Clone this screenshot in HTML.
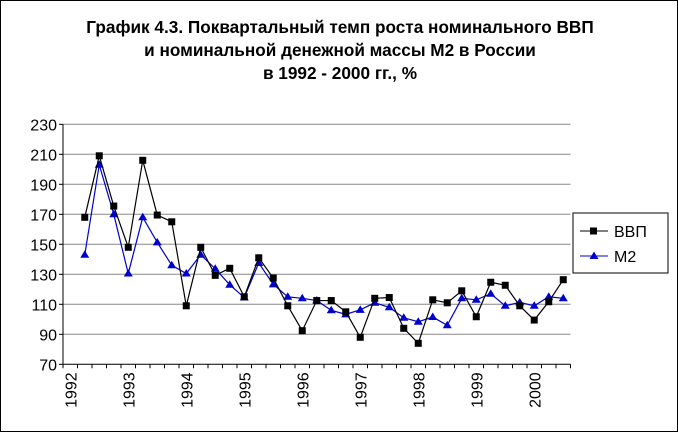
<!DOCTYPE html>
<html><head><meta charset="utf-8"><style>
body{margin:0;background:#fff;}
svg{display:block;font-family:"Liberation Sans",Arial,sans-serif;}
</style></head><body>
<svg id="chart" width="678" height="432">
<rect x="0.5" y="0.5" width="677" height="431" fill="#fff" stroke="#000"/>
<g font-weight="bold" font-size="17.2" text-anchor="middle">
<text x="340" y="33">График 4.3. Поквартальный темп роста номинального ВВП</text>
<text x="340" y="56">и номинальной денежной массы М2 в России</text>
<text x="340" y="79">в 1992 - 2000 гг., %</text>
</g>
<g id="grid"></g><g id="axes"></g><g id="series"></g>
<g>
<rect x="573" y="213" width="95" height="60" fill="#fff" stroke="#000"/>
<line x1="580" y1="231" x2="608" y2="231" stroke="#000"/><rect x="590" y="227.5" width="7" height="7" fill="#000"/>
<text x="614" y="237" font-size="16">ВВП</text>
<line x1="580" y1="256" x2="608" y2="256" stroke="#00c"/><polygon points="594,251.5 598.5,259 589.5,259" fill="#00c"/>
<text x="614" y="262" font-size="16">М2</text>
</g>
</svg>
<script>
const years=["1992","1993","1994","1995","1996","1997","1998","1999","2000"];
const yTicks=[70,90,110,130,150,170,190,210,230];
const gdp=[null,168,209,175.5,148,206,169.5,165,109,148,129.3,134,115,141,127.5,109,92.4,112.5,112.5,105,88,114,114.5,94,84,113,111,119,101.7,124.7,122.7,109,99.5,111.7,126.4];
const m2=[null,143,203,170,130.5,168,151.3,136,130.5,143,133.7,123,114.5,137.5,123.3,115,114,112.5,106,103.3,106.3,111,108,101,98.4,101.5,96,114,113,117,109,111.3,109,115,114];
const NS="http://www.w3.org/2000/svg";
const x0=63,slot=14.5,nSlots=35,x1=x0+slot*nSlots;
const yMin=70,yMax=230,yTop=124.3,yBot=364.3;
const X=i=>x0+slot*(i+0.5);
const Y=v=>yBot-(v-yMin)/(yMax-yMin)*(yBot-yTop);
function mk(tag,attrs,parent){const e=document.createElementNS(NS,tag);for(const k in attrs)e.setAttribute(k,attrs[k]);parent.appendChild(e);return e;}
const grid=document.getElementById('grid'),axes=document.getElementById('axes'),ser=document.getElementById('series');
yTicks.forEach(v=>{
 const l=mk('line',{x1:x0,x2:x1,y1:Y(v),y2:Y(v),stroke:v===yMin?'#000':'#888'},grid);
 
 
 mk('line',{x1:x0-4,x2:x0,y1:Y(v),y2:Y(v),stroke:'#000'},axes);
 const t=mk('text',{x:x0-6,y:Y(v)+6,'text-anchor':'end','font-size':'16'},axes);
 t.textContent=v;
 
 
});
mk('line',{x1:x0,x2:x0,y1:yTop,y2:yBot,stroke:'#000'},axes);
for(let i=0;i<=nSlots;i++)mk('line',{x1:x0+slot*i,x2:x0+slot*i,y1:yBot,y2:yBot+4,stroke:'#000'},axes);
years.forEach((y,j)=>{
 const cx=X(j*4);
 const t=mk('text',{x:0,y:0,'text-anchor':'end','font-size':'16',transform:`translate(${cx+6},${yBot+8}) rotate(-90)`},axes);
 t.textContent=y;
 
 
});
function line(data,color,name,marker){
 const pts=data.map((v,i)=>v==null?null:[X(i),Y(v)]).filter(p=>p);
 const p=mk('polyline',{points:pts.map(p=>p.join(',')).join(' '),fill:'none',stroke:color,'stroke-width':1.2},ser);
 
 
 pts.forEach(([x,y])=>{
  let m;
  if(marker==='sq')m=mk('rect',{x:x-3.5,y:y-3.5,width:7,height:7,fill:color},ser);
  else m=mk('polygon',{points:`${x},${y-4.5} ${x+4.5},${y+3} ${x-4.5},${y+3}`,fill:color},ser);
  
  
 });
}
line(m2,'#00c','m2','tri');
line(gdp,'#000','gdp','sq');
</script>
</body></html>
